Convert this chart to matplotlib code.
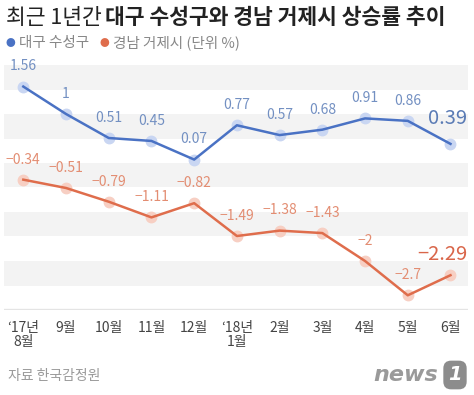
import matplotlib
matplotlib.use("Agg")
import matplotlib.pyplot as plt

plt.rcParams['font.family'] = ['Noto Sans CJK KR', 'DejaVu Sans']

# 데이터 (단위 %)
months = ["‘17년\n8월", "9월", "10월", "11월", "12월", "‘18년\n1월",
          "2월", "3월", "4월", "5월", "6월"]
daegu = [1.56, 1.0, 0.51, 0.45, 0.07, 0.77, 0.57, 0.68, 0.91, 0.86, 0.39]
geoje = [-0.34, -0.51, -0.79, -1.11, -0.82, -1.49, -1.38, -1.43, -2.0, -2.7, -2.29]

BLUE = "#4a72c4"
BLUE_HALO = "#c9d6f2"
BLUE_TXT = "#7390c2"
ORANGE = "#df6d4c"
ORANGE_HALO = "#f7cfc3"
ORANGE_TXT = "#e38d72"

fig = plt.figure(figsize=(4.74, 3.95), dpi=100)
ax = fig.add_axes([4 / 474, 85 / 395, 464 / 474, 245 / 395])

x = list(range(len(months)))

# 배경 줄무늬
for lo in [1.5, 0.5, -0.5, -1.5, -2.5]:
    ax.axhspan(lo, lo + 0.5, color="#f3f3f3", lw=0, zorder=0)
ax.axhline(-3, color="#e4e4e4", lw=2.4, zorder=1)

# 대구 수성구
ax.plot(x, daegu, "o", ms=7.5, color=BLUE_HALO, zorder=2)
ax.plot(x, daegu, "-", color=BLUE, lw=1.8, zorder=3)
# 경남 거제시
ax.plot(x, geoje, "o", ms=7.5, color=ORANGE_HALO, zorder=2)
ax.plot(x, geoje, "-", color=ORANGE, lw=1.8, zorder=3)

def fmt(v):
    return f"{v:g}".replace("-", "−")

last = len(x) - 1
for i in x:
    big = i == last
    ax.annotate(fmt(daegu[i]), (x[i], daegu[i]),
                xytext=(-2 if big else 0, 18 if big else 14.5),
                textcoords="offset points", ha="center", va="center",
                fontsize=14.5 if big else 10,
                color="#5a7bb5" if big else BLUE_TXT, annotation_clip=False)
    ax.annotate(fmt(geoje[i]), (x[i], geoje[i]),
                xytext=(-6 if big else 0, 15 if big else 14.5),
                textcoords="offset points", ha="center", va="center",
                fontsize=14.5 if big else 10,
                color="#d9664a" if big else ORANGE_TXT, annotation_clip=False)

ax.set_xlim(-0.452, 10.41)
ax.set_ylim(-3, 2)
ax.set_xticks(x)
ax.set_xticklabels(months, fontsize=10, color="#444444", linespacing=1.0)
ax.tick_params(axis="x", length=0, pad=8)
ax.set_yticks([])
for s in ax.spines.values():
    s.set_visible(False)

# 제목
fig.text(6 / 474, 1 - 18 / 395, "최근 1년간", fontsize=15.5, color="#222222",
         ha="left", va="center")
fig.text(105 / 474, 1 - 18 / 395, "대구 수성구와 경남 거제시 상승률 추이",
         fontsize=15.5, fontweight="bold", color="#222222", ha="left", va="center")

# 범례
ly = 1 - 43 / 395
fig.text(10 / 474, ly, "●", fontsize=7, color=BLUE, ha="center", va="center")
fig.text(19 / 474, ly, "대구 수성구", fontsize=10.5, color="#888888", ha="left", va="center")
fig.text(104 / 474, ly, "●", fontsize=7, color=ORANGE, ha="center", va="center")
fig.text(113 / 474, ly, "경남 거제시 (단위 %)", fontsize=10.5, color="#888888",
         ha="left", va="center")

# 출처
fig.text(8 / 474, 1 - 376 / 395, "자료 한국감정원", fontsize=10, color="#9a9a9a",
         ha="left", va="center")
fig.text(438 / 474, 1 - 375 / 395, "news", fontsize=16, fontweight="bold",
         style="italic", color="#9a9a9a", ha="right", va="center",
         family="DejaVu Sans")
fig.text(455 / 474, 1 - 375 / 395, "1", fontsize=14, fontweight="bold",
         style="italic", color="white", ha="center", va="center",
         family="DejaVu Sans",
         bbox=dict(boxstyle="round,pad=0.25,rounding_size=0.4", fc="#8c8c8c", ec="none"))

fig.savefig("out.png", dpi=100)
